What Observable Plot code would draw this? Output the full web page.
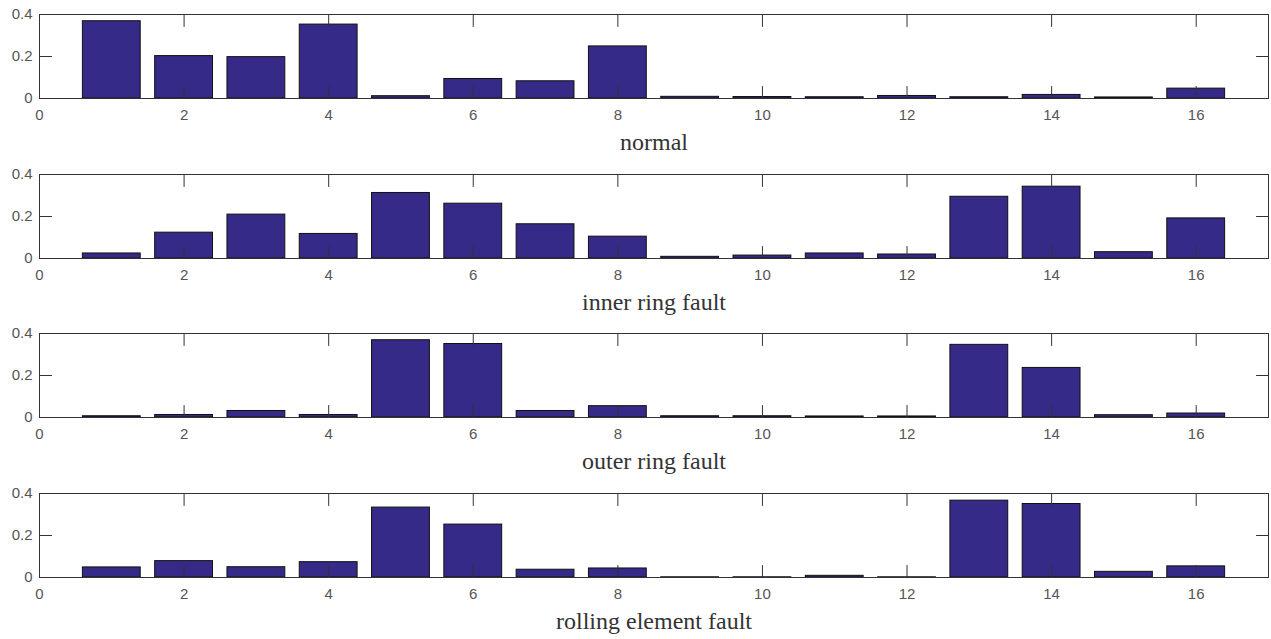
<!DOCTYPE html>
<html><head><meta charset="utf-8">
<script src="https://cdn.jsdelivr.net/npm/d3@7"></script>
<script src="https://cdn.jsdelivr.net/npm/@observablehq/plot@0.6"></script>
<style>body{margin:0;background:#fff} svg{display:block}</style>
</head><body><div id="chart"></div>
<script>
const components = [1, 2, 3, 4, 5, 6, 7, 8, 9, 10, 11, 12, 13, 14, 15, 16];
const xTicks = [0, 2, 4, 6, 8, 10, 12, 14, 16];
const yTicks = [0, 0.2, 0.4];
const titles = ["normal", "inner ring fault", "outer ring fault", "rolling element fault"];
const normal = [0.368, 0.202, 0.197, 0.352, 0.011, 0.093, 0.082, 0.248, 0.008, 0.007, 0.006, 0.012, 0.006, 0.017, 0.005, 0.047];
const innerRing = [0.024, 0.123, 0.209, 0.117, 0.312, 0.261, 0.163, 0.104, 0.008, 0.014, 0.024, 0.019, 0.294, 0.342, 0.030, 0.191];
const outerRing = [0.006, 0.012, 0.031, 0.012, 0.368, 0.350, 0.031, 0.054, 0.006, 0.006, 0.005, 0.005, 0.346, 0.236, 0.011, 0.019];
const rolling = [0.048, 0.078, 0.049, 0.073, 0.333, 0.252, 0.037, 0.043, 0.001, 0.001, 0.008, 0.001, 0.366, 0.350, 0.027, 0.053];
const series = [normal, innerRing, outerRing, rolling];
const heights = [160, 159, 160, 160];
const xDomain = [0, 17];
const yDomain = [0, 0.4];

const tickShape = {draw(context, l) { context.moveTo(0, 0); context.lineTo(0, -l); }};
const tickOpts = {length: 12, anchor: "start", shape: tickShape, stroke: "#333", strokeWidth: 1};

const chart = document.getElementById("chart");
series.forEach((vals, k) => {
  const rows = components.map((c, i) => ({c, v: vals[i]}));
  const h = heights[k];
  const plot = Plot.plot({
    width: 1271, height: h,
    marginLeft: 39, marginRight: 3, marginTop: 14, marginBottom: h - 14 - 84,
    x: {domain: xDomain, label: null},
    y: {domain: yDomain, label: null},
    style: {fontFamily: "'Liberation Sans', Arial, sans-serif", fontSize: "15px", color: "#555", background: "#fff"},
    marks: [
      Plot.rectY(rows, {x1: d => d.c - 0.4, x2: d => d.c + 0.4, y1: 0, y2: "v", fill: "#352A87", stroke: "#111", strokeWidth: 1}),
      Plot.vector(xTicks, {x: d => d, y: () => yDomain[0], rotate: 0, ...tickOpts}),
      Plot.vector(xTicks, {x: d => d, y: () => yDomain[1], rotate: 180, ...tickOpts}),
      Plot.vector(yTicks, {x: () => xDomain[0], y: d => d, rotate: 90, ...tickOpts}),
      Plot.vector(yTicks, {x: () => xDomain[1], y: d => d, rotate: -90, ...tickOpts}),
      Plot.axisX(xTicks, {anchor: "bottom", tickSize: 0, tickPadding: 11, label: null, fill: "#555"}),
      Plot.axisY(yTicks, {anchor: "left", tickSize: 0, tickPadding: 7, label: null, tickFormat: d => String(d), fill: "#555"}),
      Plot.frame({stroke: "#333", strokeWidth: 1}),
      Plot.text([titles[k]], {text: d => d, frameAnchor: "bottom", dy: 51, fontSize: 24, fontFamily: "'Liberation Serif', 'Times New Roman', serif", fill: "#333"})
    ]
  });
  chart.appendChild(plot);
});
</script>
</body></html>
